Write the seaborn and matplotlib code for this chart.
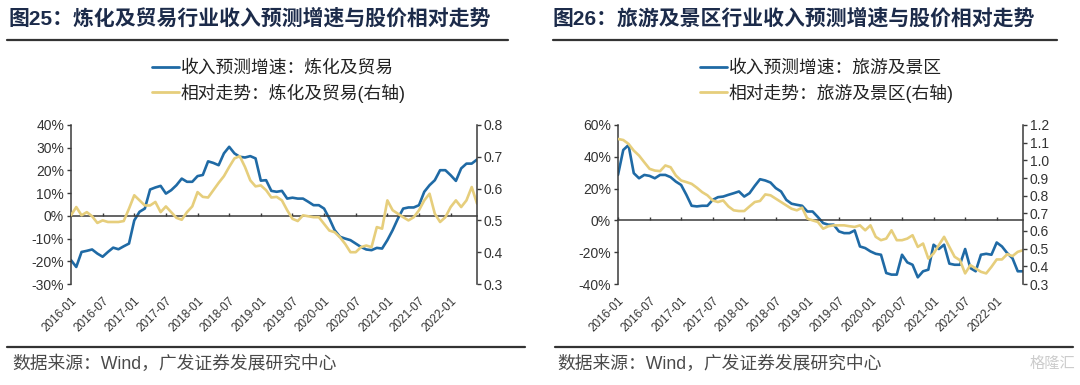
import numpy as np
import pandas as pd
import matplotlib
matplotlib.use("Agg")
import matplotlib.pyplot as plt
import seaborn as sns
from matplotlib.lines import Line2D

# ---------------- data ----------------
months = pd.date_range("2016-01-01", periods=78, freq="MS")
month_labels = list(months.strftime("%Y-%m"))

# 图25 炼化及贸易
refine_growth = [-19.5, -22.5, -15.9, -15.4, -14.8, -16.6, -18.0, -15.9, -14.0, -14.7, -13.4, -12.2,
                 -2.0, 1.8, 3.2, 11.6, 12.5, 13.2, 9.8, 11.3, 13.5, 16.4, 15.0, 15.0,
                 17.5, 18.0, 24.0, 23.3, 22.3, 27.5, 30.4, 27.5, 26.0, 25.7, 26.3, 25.3,
                 15.5, 15.7, 11.0, 10.6, 11.0, 7.6, 8.0, 7.6, 7.6, 6.2, 4.7, 4.7,
                 3.2, -1.2, -6.3, -9.2, -10.0, -10.7, -12.2, -13.7, -14.8, -15.1, -14.1, -14.4,
                 -10.7, -6.3, -1.2, 3.2, 3.7, 3.7, 4.7, 10.6, 13.5, 15.7, 20.1, 20.1,
                 17.9, 15.4, 20.9, 23.0, 23.0, 24.8]
refine_rel = [0.516, 0.542, 0.516, 0.526, 0.513, 0.492, 0.500, 0.495, 0.495, 0.495, 0.498, 0.537,
              0.579, 0.563, 0.547, 0.547, 0.558, 0.526, 0.544, 0.526, 0.508, 0.502, 0.526, 0.544,
              0.589, 0.574, 0.572, 0.595, 0.618, 0.639, 0.668, 0.695, 0.702, 0.668, 0.626, 0.607,
              0.610, 0.595, 0.572, 0.574, 0.563, 0.532, 0.505, 0.498, 0.516, 0.513, 0.510, 0.510,
              0.489, 0.468, 0.463, 0.447, 0.426, 0.400, 0.400, 0.416, 0.421, 0.416, 0.479, 0.474,
              0.563, 0.532, 0.521, 0.510, 0.500, 0.510, 0.532, 0.563, 0.584, 0.521, 0.495, 0.510,
              0.542, 0.563, 0.542, 0.563, 0.605, 0.553]

# 图26 旅游及景区
travel_growth = [28.6, 44.3, 47.4, 29.7, 26.5, 28.6, 28.0, 26.5, 28.6, 28.6, 27.2, 24.4,
                 22.3, 16.1, 9.2, 8.8, 9.2, 9.2, 12.9, 14.6, 15.0, 16.1, 17.1, 18.2,
                 15.0, 17.1, 21.7, 25.9, 25.1, 23.8, 20.3, 18.2, 12.9, 10.5, 9.8, 9.2,
                 5.6, 5.6, 2.1, -1.7, -2.7, -2.7, -6.9, -8.0, -8.0, -6.3, -16.4, -17.4,
                 -19.5, -21.0, -21.6, -33.1, -34.1, -34.1, -21.6, -26.4, -27.9, -35.8, -32.0, -31.0,
                 -15.3, -18.0, -15.3, -27.2, -27.9, -27.9, -18.0, -30.0, -32.0, -21.6, -21.0, -21.6,
                 -13.9, -16.4, -20.6, -23.8, -32.0, -32.0]
travel_rel = [1.121, 1.115, 1.093, 1.055, 1.027, 0.989, 0.952, 0.942, 0.939, 0.971, 0.961, 0.914,
              0.886, 0.877, 0.867, 0.845, 0.820, 0.802, 0.773, 0.764, 0.773, 0.739, 0.717, 0.713,
              0.713, 0.739, 0.764, 0.770, 0.807, 0.802, 0.783, 0.764, 0.745, 0.726, 0.717, 0.732,
              0.670, 0.660, 0.651, 0.613, 0.627, 0.632, 0.632, 0.632, 0.627, 0.623, 0.632, 0.604,
              0.632, 0.567, 0.548, 0.557, 0.604, 0.548, 0.548, 0.557, 0.576, 0.510, 0.529, 0.444,
              0.473, 0.520, 0.567, 0.510, 0.454, 0.435, 0.360, 0.407, 0.388, 0.369, 0.360, 0.397,
              0.439, 0.439, 0.469, 0.458, 0.482, 0.491]

refine_left_ticks = [-30, -20, -10, 0, 10, 20, 30, 40]
refine_right_ticks = [0.3, 0.4, 0.5, 0.6, 0.7, 0.8]
travel_left_ticks = [-40, -20, 0, 20, 40, 60]
travel_right_ticks = [0.3, 0.4, 0.5, 0.6, 0.7, 0.8, 0.9, 1.0, 1.1, 1.2]

titles = ["图25：炼化及贸易行业收入预测增速与股价相对走势",
          "图26：旅游及景区行业收入预测增速与股价相对走势"]
legend_labels = [["收入预测增速：炼化及贸易", "相对走势：炼化及贸易(右轴)"],
                 ["收入预测增速：旅游及景区", "相对走势：旅游及景区(右轴)"]]
source = "数据来源：Wind，广发证券发展研究中心"

# ---------------- style ----------------
BLUE = "#1F6AA5"
YELLOW = "#E6CE7C"
NAVY = "#1C2B4A"
AXC = "#3A3A3A"

sns.set_theme(style="ticks")
plt.rcParams["font.family"] = ["Liberation Sans", "Noto Sans CJK SC", "DejaVu Sans"]

W, H = 1080, 385
fig = plt.figure(figsize=(W / 100, H / 100), dpi=100)


def fx(px):
    return px / W


def fy(py):
    return 1 - py / H


def panel(x0, x1, growth, rel, lticks, rticks, labels, title, tx, tline, bline, src_x, leg_x):
    ax = fig.add_axes([fx(x0), fy(284), fx(x1 - x0), (284 - 125) / H])
    df = pd.DataFrame({"idx": np.arange(len(months)), "growth": growth, "rel": rel})
    sns.lineplot(data=df, x="idx", y="growth", ax=ax, color=BLUE, lw=1.9)
    ax2 = ax.twinx()
    sns.lineplot(data=df, x="idx", y="rel", ax=ax2, color=YELLOW, lw=1.9)

    ax.set_xlim(0, len(months) - 1)
    ax.set_ylim(lticks[0], lticks[-1])
    ax2.set_ylim(rticks[0], rticks[-1])
    for a in (ax, ax2):
        a.set_xlabel("")
        a.set_ylabel("")
        a.spines["top"].set_visible(False)

    tick_idx = [i for i, m in enumerate(months) if m.month in (1, 7)]
    ax.set_xticks(tick_idx)
    ax.spines["bottom"].set_position(("data", 0))
    ax.spines["bottom"].set_color(AXC)
    ax.spines["bottom"].set_linewidth(1.1)
    ax.tick_params(axis="x", direction="in", length=2.5, width=1, color=AXC, labelbottom=False)
    ax.spines["right"].set_visible(False)
    ax.spines["left"].set_color(AXC)
    ax.spines["left"].set_linewidth(1.1)
    ax.set_yticks(lticks, labels=[f"{t}%" for t in lticks])
    ax.tick_params(axis="y", direction="out", length=3, width=1, color=AXC,
                   labelsize=10, labelcolor="#333333", pad=2)

    ax2.spines["left"].set_visible(False)
    ax2.spines["bottom"].set_visible(False)
    ax2.spines["right"].set_color(AXC)
    ax2.spines["right"].set_linewidth(1.1)
    ax2.set_yticks(rticks, labels=[f"{t:.1f}" for t in rticks])
    ax2.tick_params(axis="y", direction="out", length=3, width=1, color=AXC,
                    labelsize=10, labelcolor="#333333", pad=2)

    sec = ax.secondary_xaxis("bottom")
    sec.set_xticks(tick_idx, labels=[month_labels[i] for i in tick_idx])
    sec.spines["bottom"].set_visible(False)
    sec.tick_params(axis="x", length=0, pad=8, labelsize=8.5, labelcolor="#333333")
    for lb in sec.get_xticklabels():
        lb.set_rotation(45)
        lb.set_ha("right")
        lb.set_va("top")
        lb.set_rotation_mode("anchor")

    handles = [ax.get_lines()[0], ax2.get_lines()[0]]
    handles = [Line2D([], [], color=h.get_color(), lw=2) for h in handles]
    fig.legend(handles, labels, loc="upper left", bbox_to_anchor=(fx(leg_x), fy(60)),
               frameon=False, fontsize=12.8, handlelength=1.5, handletextpad=0.12,
               labelspacing=0.35, borderpad=0, borderaxespad=0, labelcolor="#222222")

    fig.text(fx(tx), fy(18), title, fontsize=15, fontweight="bold", color=NAVY,
             ha="left", va="center")
    fig.add_artist(Line2D([fx(tline[0]), fx(tline[1])], [fy(40), fy(40)],
                          transform=fig.transFigure, color="#333333", lw=1.6))
    fig.add_artist(Line2D([fx(bline[0]), fx(bline[1])], [fy(347), fy(347)],
                          transform=fig.transFigure, color="#333333", lw=1.6))
    fig.text(fx(src_x), fy(364), source, fontsize=12.8, color="#4A4A4A", ha="left", va="center")


panel(71, 477, refine_growth, refine_rel, refine_left_ticks, refine_right_ticks,
      legend_labels[0], titles[0], 8, (7, 508), (7, 525), 12, 152)
panel(618, 1023, travel_growth, travel_rel, travel_left_ticks, travel_right_ticks,
      legend_labels[1], titles[1], 553, (553, 1057), (555, 1073), 557, 700)

fig.text(fx(1075), fy(364), "格隆汇", fontsize=11, color="#CCCCCC", ha="right", va="center")

fig.savefig("out.png", dpi=100)
